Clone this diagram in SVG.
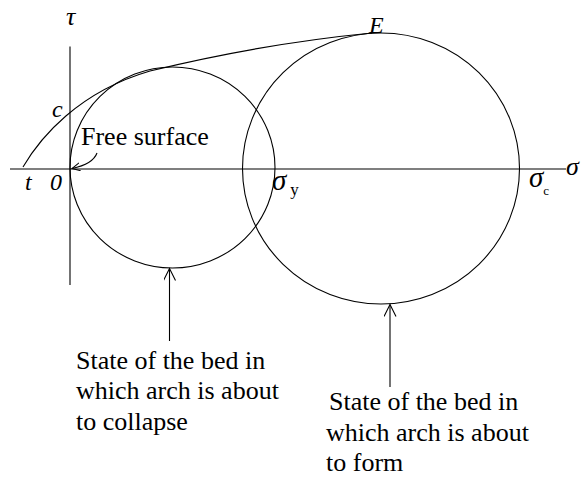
<svg xmlns="http://www.w3.org/2000/svg" width="581" height="477" viewBox="0 0 581 477">
<defs>
<style>
.ln{fill:none;stroke:#000;stroke-width:1.1}
.t{font-family:"Liberation Serif","Times New Roman",serif;font-size:26px;fill:#000}
.i{font-style:italic}
.m{font-family:"Liberation Serif","Times New Roman",serif;fill:#000}
</style>
<marker id="ah" markerWidth="14" markerHeight="14" refX="12" refY="6" orient="auto" markerUnits="userSpaceOnUse">
<path d="M0,0 L12,6 L0,12" fill="none" stroke="#000" stroke-width="1.1"/>
</marker>
<marker id="ahs" markerWidth="10" markerHeight="10" refX="8" refY="4" orient="auto" markerUnits="userSpaceOnUse">
<path d="M0,0 L8,4 L0,8" fill="none" stroke="#000" stroke-width="1"/>
</marker>
</defs>
<rect width="581" height="477" fill="#fff"/>
<g id="axes">
<line class="ln" x1="10" y1="169" x2="566" y2="169"/>
<line class="ln" x1="70" y1="46.5" x2="70" y2="285"/>
<text class="m i" x="66" y="25" font-size="26">τ</text>
<text class="m i" x="566" y="175" font-size="26">σ</text>
<text class="m i" x="25" y="190" font-size="24">t</text>
<text class="m i" x="50" y="190" font-size="24">0</text>
<text class="m i" x="52" y="117" font-size="24">c</text>
</g>
<g id="circle-collapse">
<ellipse class="ln" cx="172.5" cy="167.5" rx="102.5" ry="100.5"/>
<text class="m" x="272" y="190" font-size="29"><tspan font-style="italic">σ</tspan><tspan font-size="17" dx="4" dy="5">y</tspan></text>
</g>
<g id="circle-form">
<ellipse class="ln" cx="381" cy="168.5" rx="138.5" ry="135.5"/>
<text class="m" x="529" y="187" font-size="29"><tspan font-style="italic">σ</tspan><tspan font-size="13" dx="0" dy="8">c</tspan></text>
<text class="m i" x="369" y="33" font-size="24">E</text>
</g>
<g id="envelope">
<path class="ln" d="M23,167 C40,138 78,92 150,71 C220,54 300,40 372,33"/>
</g>
<g id="free-surface">
<text class="t" x="81" y="145">Free surface</text>
</g>
<g id="label-collapse">
<text class="t" x="76" y="369">State of the bed in</text>
<text class="t" x="76" y="399">which arch is about</text>
<text class="t" x="76" y="430">to collapse</text>
</g>
<g id="label-form">
<text class="t" x="329" y="410">State of the bed in</text>
<text class="t" x="326" y="441">which arch is about</text>
<text class="t" x="326" y="471">to form</text>
</g>
<g id="connectors">
<path class="ln" d="M97,153 Q93,164 72,168.5" marker-end="url(#ahs)"/>
<line class="ln" x1="169.5" y1="341" x2="169.5" y2="268.5" marker-end="url(#ah)"/>
<line class="ln" x1="390" y1="387" x2="390" y2="304.5" marker-end="url(#ah)"/>
</g>
</svg>
